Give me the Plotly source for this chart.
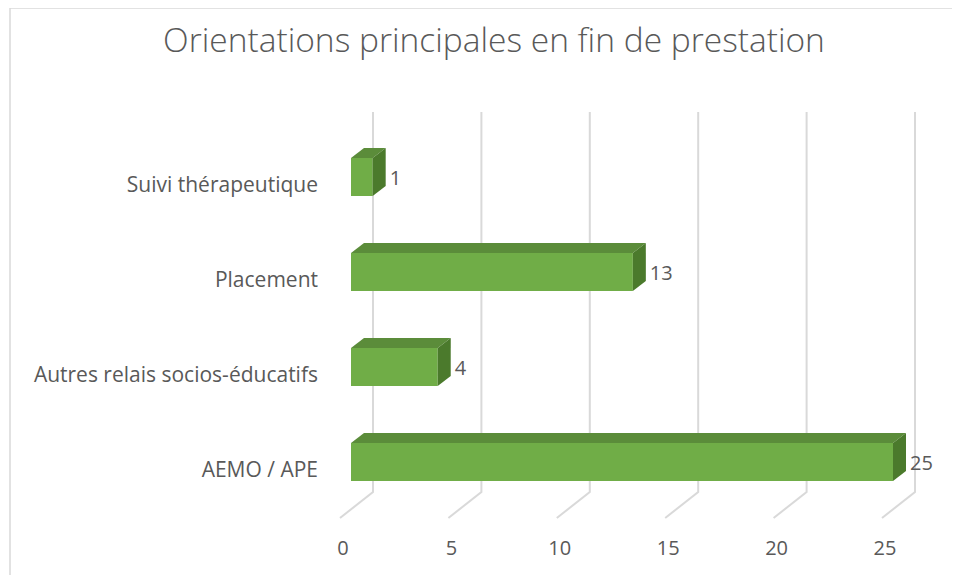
import plotly.graph_objects as go

# ---------------- data ----------------
categories = ["AEMO / APE", "Autres relais socios-éducatifs", "Placement", "Suivi thérapeutique"]
values = [25, 4, 13, 1]
x_ticks = [0, 5, 10, 15, 20, 25]
title_text = "Orientations principales en fin de prestation"

# ---------------- geometry (screen pixels) ----------------
OFF = 8                          # page body margin
W, H = 960 - OFF, 575 - OFF
PL, PR, PT, PB = 328, 940, 100, 530   # plot area on screen
PW, PH = PR - PL, PB - PT
X0_PX, PX_X = 351.0, 21.68      # front plane: value 0 at px 351
Y0_PX, PX_Y = 462.0, 95.0       # category 0 center at px 462


def ux(px):
    return px / PX_X


def uy(px):
    return px / PX_Y


x_range = [(PL - X0_PX) / PX_X, (PR - X0_PX) / PX_X]
y_range = [(Y0_PX - PB) / PX_Y, (Y0_PX - PT) / PX_Y]

BAR_W = 0.4
DDX, DDY = ux(13), uy(10)
WALL_DX = ux(22)
FLOOR_DX = ux(-11)
GRID_TOP = (Y0_PX - 112) / PX_Y
GRID_BOT = (Y0_PX - 492) / PX_Y
FLOOR_Y = (Y0_PX - 518) / PX_Y

TEXT = "#595959"
GRID = "#d9d9d9"
FRONT = "#70ad47"
TOP = "#5b8c3a"
SIDE = "#4b7a2c"
FONT = "Open Sans"

fig = go.Figure()

shapes = [dict(type="rect", xref="paper", yref="paper",
               x0=(10 - PL) / PW, x1=(980 - PL) / PW,
               y0=(PB - 600) / PH, y1=(PB - 8) / PH,
               line=dict(color=GRID, width=1.5), fillcolor="rgba(0,0,0,0)",
               layer="below")]

# gridlines on back wall + floor diagonals (below the bars)
for v in x_ticks:
    xw = v + WALL_DX
    xf = v + FLOOR_DX
    shapes.append(dict(type="path", xref="x", yref="y", layer="below",
                       path=f"M {xw},{GRID_TOP} L {xw},{GRID_BOT} L {xf},{FLOOR_Y}",
                       line=dict(color=GRID, width=2)))

yidx = list(range(len(categories)))
fig.add_trace(go.Bar(
    x=values, y=yidx, orientation="h", width=BAR_W,
    marker=dict(color=FRONT, line=dict(width=0)),
    showlegend=False, hoverinfo="x"))

for i, v in enumerate(values):
    yt = i + BAR_W / 2
    yb = i - BAR_W / 2
    fig.add_trace(go.Scatter(
        x=[0, v, v + DDX, DDX, 0],
        y=[yt, yt, yt + DDY, yt + DDY, yt],
        mode="lines", fill="toself", fillcolor=TOP,
        line=dict(width=0, color=TOP), hoverinfo="skip", showlegend=False))
    fig.add_trace(go.Scatter(
        x=[v, v, v + DDX, v + DDX, v],
        y=[yb, yt, yt + DDY, yb + DDY, yb],
        mode="lines", fill="toself", fillcolor=SIDE,
        line=dict(width=0, color=SIDE), hoverinfo="skip", showlegend=False))

fig.add_trace(go.Scatter(
    x=[v + DDX + ux(4) for v in values], y=[i - uy(3) for i in yidx],
    mode="text", text=[str(v) for v in values], textposition="middle right",
    textfont=dict(family=FONT, size=20, color=TEXT),
    hoverinfo="skip", showlegend=False))

fig.update_layout(
    width=W, height=H,
    margin=dict(l=PL - OFF, r=W - (PR - OFF), t=PT - OFF, b=H - (PB - OFF)),
    paper_bgcolor="white", plot_bgcolor="white",
    title=dict(text=title_text, x=(494 - OFF) / W, xref="container", xanchor="center",
               y=1 - (40 - OFF) / H, yref="container", yanchor="middle",
               font=dict(family=FONT, size=33.5, color=TEXT, weight=300)),
    xaxis=dict(range=x_range, showgrid=False, zeroline=False, showline=False,
               tickmode="array", tickvals=[v + ux(-8) for v in x_ticks],
               ticktext=[str(v) for v in x_ticks], ticks="",
               ticklabelstandoff=4,
               tickfont=dict(family=FONT, size=20, color=TEXT), fixedrange=True),
    yaxis=dict(range=y_range, showgrid=False, zeroline=False, showline=False,
               tickmode="array", tickvals=[i - uy(8) for i in yidx],
               ticktext=categories, ticks="", ticklabelstandoff=9,
               tickfont=dict(family=FONT, size=21, color=TEXT), fixedrange=True),
    shapes=shapes,
)

fig.write_html("out.html")
